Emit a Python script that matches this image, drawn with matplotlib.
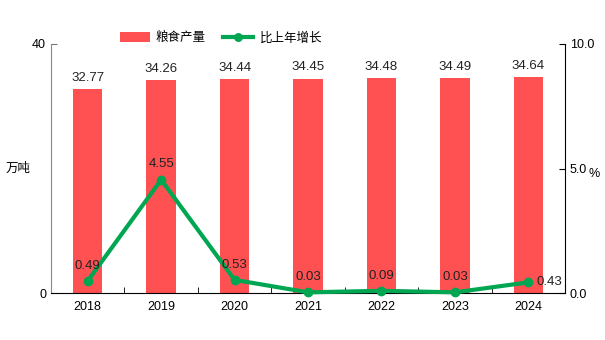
import matplotlib
matplotlib.use("Agg")
import matplotlib.pyplot as plt
import numpy as np

plt.rcParams["font.family"] = ["Liberation Sans", "Noto Sans CJK SC", "DejaVu Sans"]

years = ["2018", "2019", "2020", "2021", "2022", "2023", "2024"]
output = [32.77, 34.26, 34.44, 34.45, 34.48, 34.49, 34.64]   # 万吨
growth = [0.49, 4.55, 0.53, 0.03, 0.09, 0.03, 0.43]          # %

BAR_COLOR = "#FF5151"
LINE_COLOR = "#00A651"

fig = plt.figure(figsize=(6.05, 3.4), dpi=100)
ax = fig.add_axes([0.0843, 0.138, 0.8497, 0.7326])
ax2 = ax.twinx()

x = np.arange(len(years))
bars = ax.bar(x, output, width=0.4, color=BAR_COLOR, label="粮食产量", zorder=2)
for xi, v in zip(x, output):
    ax.annotate(f"{v:.2f}", (xi, v), xytext=(0, 8), textcoords="offset points",
                ha="center", va="center", fontsize=9.5, color="#222222")

ax.set_xlim(-0.5, len(years) - 0.5)
ax.set_ylim(0, 40)
ax.set_yticks([0, 40])
ax.set_xticks(x)
ax.set_xticklabels(years)
ax.set_xticks(x[:-1] + 0.5, minor=True)
ax.tick_params(axis="x", which="major", length=0, labelsize=9, pad=6)
ax.tick_params(axis="x", which="minor", direction="in", length=4, color="black")
ax.tick_params(axis="y", direction="in", length=4, labelsize=9, color="#777777")
ax.spines["top"].set_visible(False)
ax.spines["left"].set_color("#888888")
ax.spines["bottom"].set_color("black")
ax.spines["right"].set_visible(False)
ax.text(-0.088, 0.5, "万吨", transform=ax.transAxes, fontsize=9, ha="left", va="center")

line, = ax2.plot(x, growth, color=LINE_COLOR, lw=3, marker="o", ms=6,
                 label="比上年增长", zorder=3, clip_on=False)
for i, (xi, v) in enumerate(zip(x, growth)):
    if i == len(growth) - 1:
        ax2.annotate(f"{v:.2f}", (xi, v), xytext=(6, 0), textcoords="offset points",
                     ha="left", va="center", fontsize=9.5, color="#222222")
    else:
        ax2.annotate(f"{v:.2f}", (xi, v), xytext=(0, 11), textcoords="offset points",
                     ha="center", va="center", fontsize=9.5, color="#222222")

ax2.set_ylim(0, 10)
ax2.set_yticks([0, 5, 10])
ax2.set_yticklabels(["0.0", "5.0", "10.0"])
ax2.tick_params(axis="y", direction="in", length=4, labelsize=9)
for s in ["top", "left", "bottom"]:
    ax2.spines[s].set_visible(False)
ax2.spines["right"].set_color("black")
ax2.text(1.045, 0.48, "%", transform=ax2.transAxes, fontsize=9, ha="left", va="center")

ax.set_zorder(1)
ax2.set_zorder(2)
ax2.patch.set_visible(False)

fig.legend(handles=[bars, line], loc="center", bbox_to_anchor=(0.365, 0.888), ncol=2,
           frameon=False, fontsize=9, handlelength=2.4, handleheight=0.9,
           columnspacing=1.4, handletextpad=0.5, markerscale=0.9)

fig.savefig("out.png", dpi=100)
